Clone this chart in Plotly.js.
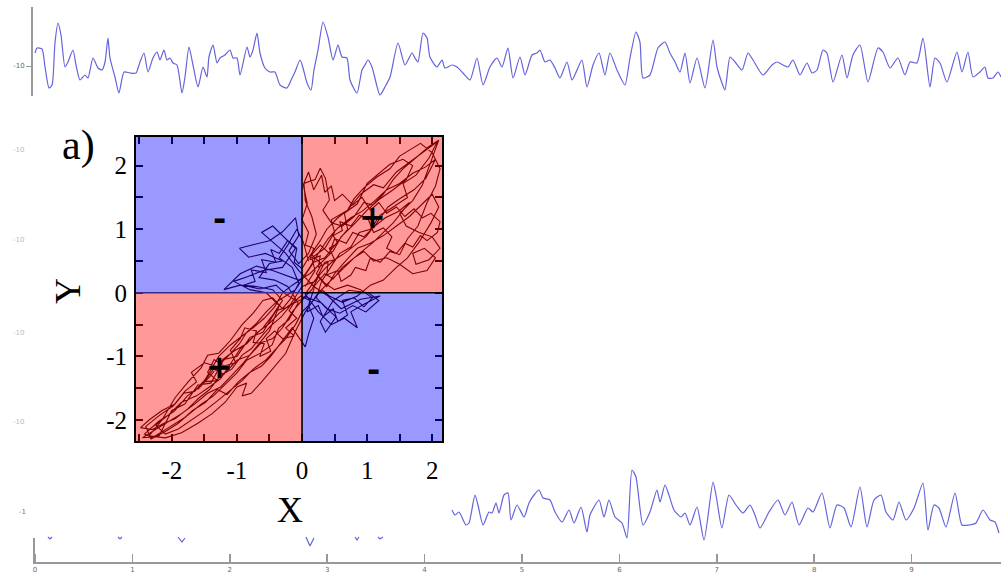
<!DOCTYPE html>
<html><head><meta charset="utf-8">
<script src="https://cdn.plot.ly/plotly-3.0.1.min.js"></script>
<style>html,body{margin:0;padding:0;background:#fff;}#chart{width:1001px;height:577px;}</style>
</head><body><div id="chart"></div>
<script>
// ---- top signal (time in s, amplitude) ----
const tTop = [0,0.021,0.072,0.103,0.144,0.175,0.205,0.236,0.267,0.308,
0.339,0.390,0.421,0.462,0.513,0.544,0.595,0.647,0.688,0.719,
0.749,0.770,0.821,0.862,0.914,0.975,1.037,1.078,1.119,1.160,
1.211,1.253,1.283,1.324,1.355,1.386,1.417,1.458,1.509,1.540,
1.581,1.622,1.674,1.725,1.766,1.786,1.828,1.869,1.899,1.951,
2.002,2.033,2.074,2.105,2.177,2.207,2.238,2.279,2.310,2.361,
2.413,2.464,2.515,2.587,2.639,2.669,2.721,2.752,2.793,2.834,
2.864,2.906,2.957,3.008,3.060,3.111,
3.152,3.203,3.234,3.306,3.357,3.388,3.419,3.460,3.542,3.593,
3.645,3.727,3.799,3.871,3.901,3.932,3.984,4.025,4.055,4.127,
4.179,4.209,4.281,4.333,4.394,4.466,4.538,4.600,4.671,4.743,
4.795,4.856,4.908,4.979,5.031,5.103,5.154,5.185,5.236,5.287,
5.339,5.390,5.462,5.513,5.565,5.616,5.667,5.729,5.791,5.852,
5.903,5.975,6.057,6.109,6.170,6.211,6.242,6.314,6.396,6.468,
6.519,6.571,6.622,6.674,6.725,6.797,6.879,6.961,7.002,7.053,
7.084,7.136,7.187,7.259,7.320,7.372,7.474,7.567,7.618,7.680,
7.731,7.782,7.854,7.926,7.977,8.029,8.090,8.131,8.193,8.285,
8.337,8.398,8.470,8.552,8.655,8.706,8.778,8.860,8.932,8.984,
9.055,9.117,9.189,9.240,9.292,9.363,9.466,9.517,9.579,9.630,
9.702,9.753,9.784,9.836,9.887,9.918];
const vTop = [-8.7,-8.2,-8.3,-10.1,-12.2,-11.9,-7.7,-5.7,-6.9,-10.1,
-9.6,-8.4,-9.9,-11.4,-10.9,-11.2,-9.2,-10.2,-10.4,-9.6,
-7.2,-9.2,-11.1,-12.7,-10.6,-10.7,-10.7,-9.6,-8.7,-10.6,
-9.2,-8.6,-9.4,-8.4,-9.4,-9.2,-9.7,-9.9,-12.7,-11.1,
-8.1,-9.9,-12.1,-10.1,-11.1,-9.1,-7.9,-9.7,-9.2,-8.9,
-8.4,-9.2,-9.2,-10.9,-8.1,-9.1,-8.4,-6.7,-8.7,-10.2,
-10.6,-10.6,-11.9,-12.2,-11.2,-10.6,-9.4,-10.2,-11.7,-12.4,
-10.4,-8.4,-5.6,-7.1,-9.4,-7.9,
-9.1,-9.2,-11.4,-12.7,-10.4,-9.9,-9.4,-10.1,-12.9,-12.1,
-11.1,-7.7,-9.9,-8.7,-9.2,-9.6,-6.7,-7.2,-9.1,-10.1,
-9.4,-10.2,-9.9,-10.1,-10.7,-11.4,-9.2,-11.9,-10.1,-9.2,
-10.1,-8.2,-11.2,-9.1,-10.9,-8.9,-8.7,-8.4,-9.6,-9.4,
-10.2,-11.2,-9.6,-11.4,-10.4,-9.4,-12.1,-9.9,-8.7,-10.9,
-8.7,-10.4,-11.9,-9.2,-6.6,-7.6,-11.2,-10.9,-8.2,-7.6,
-8.7,-9.6,-10.6,-8.7,-11.7,-9.2,-12.2,-7.4,-10.1,-11.7,
-12.4,-9.1,-9.6,-10.4,-8.7,-9.4,-10.9,-9.9,-9.6,-9.9,
-10.1,-9.4,-10.9,-9.7,-10.7,-10.4,-8.4,-8.7,-11.6,-8.9,
-11.2,-8.9,-7.9,-11.6,-8.2,-8.6,-10.2,-9.2,-10.9,-9.6,
-9.7,-7.2,-12.1,-9.2,-9.7,-11.6,-8.6,-10.6,-8.6,-11.1,
-10.6,-10.1,-11.2,-11.2,-10.6,-11.1];

// ---- bottom signal ----
const tBot = [4.281,4.312,4.353,4.425,4.456,4.517,4.548,4.600,4.661,4.692,
4.733,4.764,4.815,4.856,4.887,4.949,5.021,5.072,5.123,5.175,
5.216,5.287,5.339,5.411,5.483,5.534,5.606,5.667,5.698,5.791,
5.842,5.893,5.955,6.027,6.078,6.129,6.170,6.242,6.314,6.386,
6.417,6.468,6.509,6.561,6.632,6.674,6.725,6.797,6.869,6.961,
6.992,7.053,7.125,7.197,7.269,7.341,7.392,7.444,7.536,7.628,
7.700,7.772,7.844,7.936,7.988,8.080,8.162,8.234,8.306,8.378,
8.470,8.542,8.614,8.686,8.737,8.809,8.871,8.943,9.025,9.117,
9.168,9.230,9.281,9.353,9.446,9.517,9.589,9.661,9.733,9.805,
9.856,9.897];
const vBot = [-0.8,-1.3,-1.0,-2.3,-2.1,0.7,-0.3,-2.3,-1.0,-1.1,
-0.1,-1.1,0.7,0.9,-1.8,-0.3,-1.5,-0.1,0.7,1.2,
0.4,0.2,-1.0,-2.0,-0.8,-2.1,-0.5,-3.0,-1.3,0.2,
-1.5,0.2,-1.5,-2.1,-3.6,3.2,2.5,-2.3,-1.0,1.2,
0.0,1.7,0.7,-0.8,-1.5,-1.1,-2.3,-0.5,-3.8,2.0,
0.7,-2.6,0.7,-0.3,-1.1,-0.3,-1.3,-2.6,-1.0,0.2,
-1.3,0.0,-2.3,-0.6,-1.0,0.9,-2.6,-0.3,-0.6,-2.5,
1.5,-2.5,0.2,0.7,-1.0,-1.8,0.0,-1.8,-0.6,1.9,
-2.8,-0.3,-0.6,-2.5,0.9,-2.3,-2.3,-2.1,-0.8,-1.8,
-2.0,-3.1];
// visible fragments of a hidden trace under the inset
const tFrag = [0.133,0.154,0.175,null,0.852,0.873,0.893,null,1.468,1.509,1.540,null,2.782,2.823,2.864,null,3.285,3.306,3.326,null,3.522,3.542,3.573];
const vFrag = [-3.5,-3.7,-3.5,null,-3.5,-3.7,-3.5,null,-3.5,-4.0,-3.6,null,-3.5,-4.4,-3.6,null,-3.5,-3.8,-3.5,null,-3.5,-3.7,-3.5];

// ---- inset phase-space trajectory (X, Y) ----
const trajX = [0.05,0.20,0.15,0.35,0.50,0.45,0.70,0.90,1.10,1.25,
1.45,1.65,1.85,2.08,1.95,1.75,1.55,1.62,1.40,1.20,
1.05,0.88,0.75,0.58,0.45,0.30,0.22,0.38,0.58,0.78,
0.98,1.18,1.02,0.72,0.48,0.28,0.36,0.52,0.30,0.05,
-0.15,-0.30,-0.45,-0.62,-0.80,-1.00,-1.20,-1.36,-1.55,-1.76,
-1.96,-2.20,-2.42,-2.30,-2.05,-1.80,-1.56,-1.36,-1.16,-1.00,
-0.85,-0.66,-0.46,-0.36,-0.20,-0.06,-0.22,-0.42,-0.66,-0.50,
-0.30,-0.56,-0.82,-0.96,-0.74,-0.50,-0.30,-0.10,-0.05,-0.20,
-0.05,0.10,0.22,0.15,0.05,0.03,0.20,0.28,0.36,0.42,
0.32,0.45,0.62,0.80,0.95,1.08,1.25,1.40,1.55,1.78,
1.95,2.10,1.98,1.85,1.70,1.50,1.60,1.80,2.00,2.12,
1.95,1.75,1.70,1.88,2.05,1.92,1.70,1.50,1.30,1.10,
0.95,0.80,0.62,0.48,0.35,0.20,0.10,0.18,0.10,0.05,
-0.05,-0.15,-0.32,-0.48,-0.62,-0.80,-0.98,-1.15,-1.30,-1.48,
-1.68,-1.90,-2.10,-2.32,-2.40,-2.18,-1.98,-1.80,-1.62,-1.70,
-1.50,-1.30,-1.12,-0.96,-0.85,-0.70,-0.55,-0.40,-0.25,-0.10,
0.05,0.18,0.35,0.55,0.70,0.65,0.85,1.00,1.20,1.35,
1.55,1.70,1.60,1.40,1.20,1.00,0.82,0.60,0.48,0.30,
0.12,-0.05,-0.25,-0.45,-0.70,-0.95,-1.20,-0.95,-0.70,-0.45,
-0.30,-0.45,-0.60,-0.78,-0.95,-1.10,-1.25,-1.45,-1.62,-1.85,
-2.05,-2.25,-2.10,-1.90,-1.70,-1.50,-1.30,-1.12,-0.92,-0.75,
-0.55,-0.40,-0.25,-0.10,0.00,0.15,0.30,0.42,0.62,0.85,
1.05,1.25,1.45,1.62,1.80,1.98,2.10,2.00,1.85,1.65,
1.45,1.25,1.05,0.85,0.65,0.50,0.38,0.25,0.15,0.00,
-0.20,-0.35,-0.50,-0.68,-0.85,-1.05,-1.22,-1.40,-1.60,-1.48,
-1.28,-1.10,-0.92,-0.75,-0.58,-0.42,-0.30,-0.15,0.00,0.12,
0.25,0.40,0.55,0.75,0.92,1.12,1.30,1.50,1.70,1.90,
2.05,1.90,1.72,1.50,1.32,1.15,0.98,0.82,0.65,0.50,
0.35,0.20,0.05,0.25,0.45,0.65,0.85,0.75,0.95,1.20,
0.90,0.60,0.40,0.18,-0.05,-0.25,-0.40,-0.62,-0.45,-0.25,
-0.10,-0.30,-0.60,-0.85,-1.05,-0.80,-0.55,-0.35,-0.50,-0.70,
-0.90,-1.08,-1.25,-1.45,-1.65,-1.85,-2.05,-2.25,-2.45,-2.20,
-2.00,-1.80,-1.60,-1.40,-1.20,-1.00,-0.80,-0.60,-0.40,-0.20,
0.00,0.20,0.35,0.50,
0.42,0.55,0.48,0.62,0.58,0.75,0.88,1.02,1.10,1.25,
1.38,1.30,1.45,1.58,1.70,1.82,1.92,2.08,2.12,1.98,
1.85,1.72,1.58,1.45,1.30,1.18,1.05,0.92,0.78,0.62,
0.50,0.45,0.35,0.30,0.18,0.10,0.02,0.08,0.00,0.10,
0.05,0.18,0.12,0.28,0.25,0.40,0.38,0.55,0.60,0.75,
0.82,0.98,1.05,1.20,1.35,1.50,1.62,1.78,1.92,2.05,
2.12,2.00,1.82,1.65,1.50,1.35,1.15,0.95,0.80,0.70,
0.55,0.38,0.28,0.10,0.00,-0.12,-0.08,-0.22,-0.35,-0.48,
-0.40,-0.62,-0.55,-0.78,-0.72,-0.90,-0.65,-0.40,-0.25,-0.10,
-0.20,-0.08,-0.25,-0.12,-0.30,-0.42,-0.55,-0.48,-0.65,-0.58,
-0.75,-0.70,-0.88,-0.95,-1.10,-1.02,-1.20,-1.35,-1.45,-1.30,
-1.52,-1.65,-1.82,-1.95,-2.15,-2.35,-2.48,-2.30,-2.12,-1.95,
-1.75,-1.58,-1.42,-1.25,-1.08,-0.92,-0.78,-0.62,-0.48,-0.32,
-0.18,-0.02,0.12,0.08,0.25,0.32,0.48,0.55,0.70,0.62,
0.80,0.95,1.08,0.90,0.70,0.50,0.35,0.22,0.30,0.15,
0.28,0.42,0.50,0.68,0.78,0.95,1.12,1.28,1.48,1.65,
1.40,1.10,0.80,0.50,0.25,0.05,-0.10,-0.25,-0.45,-0.62,
-0.78,-0.92,-0.85,-1.00,-1.18,-1.38,-1.60,-1.85,-2.10,-2.35,
-2.15,-1.95,-1.75,-1.55,-1.45,-1.28,-1.10,-0.92,-0.75,-0.60,
-0.45,-0.30,-0.18,-0.05,-0.15,-0.35,-0.22,-0.08,0.02,0.10];
const trajY = [0.10,0.35,0.55,0.70,0.95,1.15,1.30,1.55,1.70,1.65,
1.90,2.05,2.20,2.38,2.12,1.85,1.72,1.50,1.35,1.22,
1.00,0.95,0.72,0.62,0.42,0.18,-0.08,-0.25,-0.32,-0.20,
-0.30,-0.12,0.00,0.04,-0.12,-0.45,-0.62,-0.38,-0.16,-0.06,
-0.30,-0.55,-0.72,-0.78,-0.98,-1.06,-1.28,-1.20,-1.46,-1.62,
-1.86,-2.02,-2.22,-2.28,-2.12,-1.96,-1.76,-1.62,-1.42,-1.26,
-1.06,-0.96,-0.82,-0.56,-0.42,-0.16,0.10,0.20,0.24,0.46,
0.50,0.62,0.56,0.70,0.76,0.82,0.96,1.18,0.90,0.66,
0.46,0.62,0.92,1.20,1.45,1.72,1.78,1.96,1.80,1.46,
1.30,1.10,1.05,1.20,1.42,1.38,1.55,1.78,1.95,2.15,
2.30,2.40,2.05,1.70,1.45,1.25,1.05,0.95,0.88,0.70,
0.52,0.45,0.62,0.70,0.55,0.35,0.30,0.45,0.55,0.50,
0.65,0.55,0.40,0.22,0.30,0.12,-0.20,-0.40,-0.65,-0.85,
-0.70,-0.55,-0.78,-1.00,-1.15,-1.25,-1.40,-1.60,-1.52,-1.72,
-1.85,-2.05,-2.18,-2.30,-2.10,-1.92,-1.78,-1.55,-1.40,-1.25,
-1.10,-1.16,-0.98,-0.80,-0.62,-0.48,-0.30,-0.15,-0.05,0.05,
0.28,0.48,0.55,0.80,1.00,1.25,1.40,1.72,1.90,2.02,
2.10,2.00,1.78,1.62,1.48,1.30,1.10,0.88,0.66,0.48,
0.30,0.20,0.28,0.35,0.42,0.30,0.05,0.12,0.10,0.05,
-0.12,-0.35,-0.55,-0.72,-0.88,-1.12,-1.35,-1.50,-1.62,-1.72,
-1.92,-2.08,-2.22,-2.14,-2.00,-1.86,-1.70,-1.55,-1.38,-1.20,
-1.05,-0.88,-0.72,-0.50,-0.30,-0.15,0.05,-0.05,-0.15,-0.05,
0.12,0.20,0.40,0.55,0.80,1.10,1.35,1.55,1.40,1.20,
1.05,0.90,0.78,0.70,0.48,0.30,0.10,0.25,0.05,-0.10,
-0.20,-0.32,-0.48,-0.62,-0.80,-0.92,-1.05,-1.30,-1.52,-1.35,
-1.00,-0.82,-0.68,-0.55,-0.40,-0.22,0.00,0.12,0.22,0.40,
0.62,0.85,1.02,1.18,1.28,1.45,1.62,1.72,1.88,1.98,
2.10,1.80,1.62,1.48,1.35,1.10,0.88,0.75,0.62,0.52,
0.38,0.20,-0.02,-0.30,-0.50,-0.40,-0.55,-0.30,-0.18,-0.05,
-0.10,-0.25,-0.05,0.10,0.35,0.62,0.75,0.95,1.05,0.85,
0.70,0.40,0.35,0.25,0.18,0.05,0.00,-0.20,-0.60,-0.85,
-1.10,-1.30,-1.48,-1.58,-1.75,-1.90,-2.02,-2.15,-2.28,-2.26,
-1.85,-1.75,-1.45,-1.42,-1.05,-1.00,-0.70,-0.62,-0.28,-0.22,
0.10,0.18,0.48,0.52,
0.70,0.78,0.90,0.98,1.12,1.05,1.22,1.15,0.95,1.02,
0.88,0.70,0.62,0.78,0.72,0.90,0.82,0.95,1.12,1.25,
1.18,1.32,1.20,1.35,1.25,1.42,1.30,1.50,1.38,1.55,
1.45,1.68,1.58,1.85,1.62,1.90,1.70,1.40,1.15,0.95,
0.75,0.70,0.52,0.58,0.40,0.48,0.28,0.35,0.18,0.28,
0.40,0.35,0.55,0.48,0.65,0.60,0.85,1.05,1.42,1.68,
1.95,2.20,2.35,2.25,2.15,1.95,1.82,1.65,1.48,1.30,
1.18,1.00,0.82,0.55,0.38,0.48,0.70,0.82,0.62,0.68,
0.48,0.52,0.32,0.36,0.18,0.12,0.06,0.12,-0.02,-0.12,
-0.28,-0.40,-0.55,-0.68,-0.72,-0.60,-0.72,-0.92,-1.00,-0.80,
-0.78,-0.60,-0.55,-0.72,-0.90,-1.10,-1.15,-1.05,-1.25,-1.38,
-1.40,-1.55,-1.58,-1.75,-1.85,-2.00,-2.12,-2.15,-2.05,-1.98,
-1.82,-1.65,-1.52,-1.30,-1.20,-0.98,-0.88,-0.68,-0.52,-0.38,
-0.20,-0.05,-0.12,-0.30,-0.20,-0.38,-0.25,-0.45,-0.35,-0.12,
-0.08,-0.22,-0.08,0.05,0.12,0.05,0.15,0.30,0.45,0.60,
0.75,0.62,0.85,0.78,0.95,0.88,1.05,1.18,1.28,1.42,
1.10,0.80,0.55,0.25,0.00,-0.30,-0.60,-0.95,-1.20,-1.40,
-1.58,-1.62,-1.42,-1.48,-1.72,-1.90,-2.05,-2.20,-2.28,-2.25,
-2.00,-1.65,-1.40,-1.18,-0.98,-0.95,-0.75,-0.50,-0.32,-0.12,
-0.08,-0.25,-0.10,0.15,0.40,0.55,0.75,1.00,0.80,0.50];

// quadrant signs and tick labels
const signX = [-1.26, 1.08, -1.26, 1.10];
const signY = [1.16, 1.20, -1.17, -1.22];
const signText = ['-', '+', '+', '-'];
const timeTicks = [0,1,2,3,4,5,6,7,8,9];
const insetTicks = [-2,-1,0,1,2];
const faintLabels = ['-10','-10','-10','-10'];

const sigColor = '#6363dd';
const serif = 'Liberation Serif, Times New Roman, serif';

const traces = [
  {x: tTop, y: vTop, xaxis: 'x2', yaxis: 'y2', type: 'scatter', mode: 'lines',
   line: {color: sigColor, width: 1.2, shape: 'spline', smoothing: 0.6}, hoverinfo: 'skip'},
  {x: tBot, y: vBot, xaxis: 'x', yaxis: 'y', type: 'scatter', mode: 'lines',
   line: {color: sigColor, width: 1.2, shape: 'spline', smoothing: 0.6}, hoverinfo: 'skip'},
  {x: tFrag, y: vFrag, xaxis: 'x', yaxis: 'y', type: 'scatter', mode: 'lines',
   line: {color: sigColor, width: 1.2}, connectgaps: false, hoverinfo: 'skip'},
  {x: trajX, y: trajY, xaxis: 'x3', yaxis: 'y3', type: 'scatter', mode: 'lines',
   line: {color: '#300000', width: 1.1}, hoverinfo: 'skip'}
];

const XR = [-2.55, 2.15], YR = [-2.33, 2.45];
const shapes = [
  {type:'rect', xref:'x3', yref:'y3', x0:XR[0]-0.1, x1:0, y0:0, y1:YR[1]+0.1, fillcolor:'rgba(0,0,255,0.4)', line:{width:0}, layer:'above'},
  {type:'rect', xref:'x3', yref:'y3', x0:0, x1:XR[1], y0:0, y1:YR[1]+0.1, fillcolor:'rgba(255,0,0,0.4)', line:{width:0}, layer:'above'},
  {type:'rect', xref:'x3', yref:'y3', x0:XR[0]-0.1, x1:0, y0:YR[0], y1:0, fillcolor:'rgba(255,0,0,0.4)', line:{width:0}, layer:'above'},
  {type:'rect', xref:'x3', yref:'y3', x0:0, x1:XR[1], y0:YR[0], y1:0, fillcolor:'rgba(0,0,255,0.4)', line:{width:0}, layer:'above'},
  {type:'line', xref:'x3', yref:'y3', x0:XR[0], x1:0, y0:0, y1:0, line:{color:'#3a2c8c', width:1.6}, layer:'above'},
  {type:'line', xref:'x3', yref:'y3', x0:0, x1:XR[1], y0:0, y1:0, line:{color:'#000', width:1.6}, layer:'above'},
  {type:'line', xref:'x3', yref:'y3', x0:0, x1:0, y0:YR[0], y1:YR[1], line:{color:'#000', width:1.6}, layer:'above'},
  // short left axis line of the bottom panel
  {type:'line', xref:'paper', yref:'paper', x0:34/1001, x1:34/1001, y0:1-562/577, y1:1-538/577, line:{color:'#999', width:2}}
];

const mid = {xanchor:'center', yanchor:'middle', showarrow:false};
const annotations = [
  Object.assign({text:'a)', xref:'paper', yref:'paper', x:78/1001, y:1-146/577, font:{family:serif, size:42, color:'#000'}}, mid),
  Object.assign({text:'Y', xref:'paper', yref:'paper', x:68/1001, y:1-291/577, textangle:-90, font:{family:serif, size:36, color:'#000'}}, mid),
  Object.assign({text:'X', xref:'paper', yref:'paper', x:290/1001, y:1-510/577, font:{family:serif, size:36, color:'#000'}}, mid)
];
const faintY = [150, 240, 333, 422];
faintLabels.forEach((t, i) => annotations.push(Object.assign({text:t, xref:'paper', yref:'paper', x:18/1001, y:1-faintY[i]/577,
  font:{family:'DejaVu Sans', size:7, color:'#bbb'}}, mid)));
signText.forEach((t, i) => annotations.push(Object.assign({text:'<b>'+t+'</b>', xref:'x3', yref:'y3', x:signX[i], y:signY[i],
  font:{family:'DejaVu Sans, Liberation Sans', size:32, color:'#000'}}, mid)));

const plainAx = {showgrid:false, zeroline:false, fixedrange:true};
const layout = {
  width: 1001, height: 577, margin:{l:0, r:0, t:0, b:0},
  paper_bgcolor:'#fff', plot_bgcolor:'rgba(0,0,0,0)', showlegend:false,
  xaxis: Object.assign({}, plainAx, {domain:[33/1001, 1], range:[-0.0205, 9.918], anchor:'y',
    showline:true, linecolor:'#999', linewidth:2, ticks:'inside', ticklen:8, tickwidth:1.5, tickcolor:'#999',
    tickvals: timeTicks, ticktext: timeTicks.map(String), tickfont:{family:'DejaVu Sans', size:7, color:'#666'}}),
  yaxis: Object.assign({}, plainAx, {domain:[1-562/577, 1-460/577], range:[-6, 4.2], anchor:'x',
    showline:false, ticks:'', tickvals:[-1], ticktext:['-1'], ticklabelstandoff: 6,
    tickfont:{family:'DejaVu Sans', size:7, color:'#777'}}),
  xaxis2: Object.assign({}, plainAx, {domain:[33/1001, 1], range:[-0.0205, 9.918], anchor:'y2', visible:false}),
  yaxis2: Object.assign({}, plainAx, {domain:[1-96/577, 1-7/577], range:[-13, -4.1], anchor:'x2',
    showline:true, linecolor:'#999', linewidth:2, ticks:'outside', ticklen:5, tickcolor:'#999',
    tickvals:[-10], ticktext:['-10'], tickfont:{family:'DejaVu Sans', size:7, color:'#666'}}),
  xaxis3: Object.assign({}, plainAx, {domain:[136/1001, 442/1001], range:XR, anchor:'y3',
    showline:true, linecolor:'#000', linewidth:2, mirror:'allticks', ticks:'inside', ticklen:7, tickwidth:2, tickcolor:'#000',
    tickvals: insetTicks, ticktext: insetTicks.map(String),
    minor:{ticks:'inside', dtick:0.5, tick0:0, ticklen:7, tickwidth:2, tickcolor:'#000'},
    ticklabelstandoff: 6,
    tickfont:{family:serif, size:25, color:'#000'}}),
  yaxis3: Object.assign({}, plainAx, {domain:[1-441/577, 1-137/577], range:YR, anchor:'x3',
    showline:true, linecolor:'#000', linewidth:2, mirror:'allticks', ticks:'inside', ticklen:7, tickwidth:2, tickcolor:'#000',
    tickvals: insetTicks, ticktext: insetTicks.map(String),
    minor:{ticks:'inside', dtick:0.5, tick0:0, ticklen:7, tickwidth:2, tickcolor:'#000'},
    ticklabelstandoff: 2,
    tickfont:{family:serif, size:25, color:'#000'}}),
  shapes: shapes, annotations: annotations
};
Plotly.newPlot('chart', traces, layout, {displayModeBar:false, staticPlot:true});
</script></body></html>
